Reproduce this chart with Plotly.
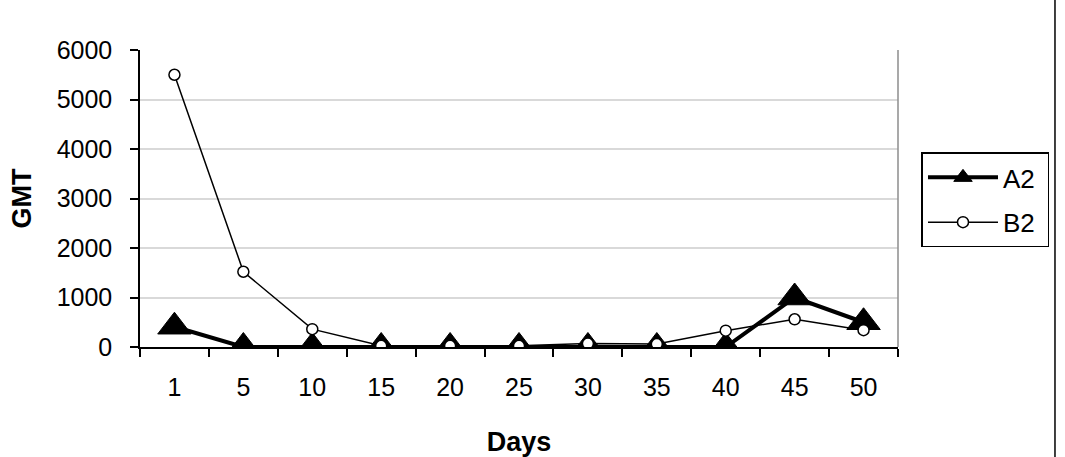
import plotly.graph_objects as go

days = ["1", "5", "10", "15", "20", "25", "30", "35", "40", "45", "50"]
a2 = [410, 0, 0, 0, 0, 0, 0, 0, 0, 1000, 500]
b2 = [5500, 1520, 360, 25, 25, 25, 70, 60, 330, 560, 340]
y_ticks = [0, 1000, 2000, 3000, 4000, 5000, 6000]

FONT = "Liberation Sans, Arial, sans-serif"

fig = go.Figure()
fig.add_trace(go.Scatter(
    x=days, y=a2, name="A2\u00a0", mode="lines+markers",
    line=dict(color="black", width=4),
    marker=dict(symbol="triangle-up", size=29, color="black",
                line=dict(color="black", width=1)),
    legendgroup="a",
))
fig.add_trace(go.Scatter(
    x=days, y=b2, name="B2\u00a0", mode="lines+markers",
    line=dict(color="black", width=1.5),
    marker=dict(symbol="circle", size=11, color="white",
                line=dict(color="black", width=1.5)),
    legendgroup="b",
))

fig.update_layout(
    width=1065, height=457,
    margin=dict(l=140, r=167, t=50, b=110, autoexpand=False),
    paper_bgcolor="white", plot_bgcolor="white",
    font=dict(family=FONT, size=25, color="black"),
    showlegend=True,
    legend=dict(
        x=1.031, y=0.655, xanchor="left", yanchor="top",
        bordercolor="black", borderwidth=1.5,
        font=dict(size=26), itemwidth=70,
        tracegroupgap=8, traceorder="grouped",
    ),
    xaxis=dict(
        type="category", range=[-0.5, 10.5], automargin=False,
        tickson="boundaries", ticks="outside", ticklen=8,
        tickcolor="black", tickwidth=1.5,
        showline=True, linecolor="black", linewidth=1.5,
        showgrid=False, zeroline=False,
        ticklabelstandoff=17,
        title=dict(text="<b>Days</b>", font=dict(size=27), standoff=32),
    ),
    yaxis=dict(
        range=[0, 6000], tickvals=y_ticks, automargin=False,
        ticks="outside", ticklen=8, tickcolor="black", tickwidth=1.5,
        showline=True, linecolor="black", linewidth=1.5,
        showgrid=True, gridcolor="#d9d9d9", gridwidth=1.5,
        zeroline=False, ticklabelstandoff=13,
        title=dict(text="<b>GMT</b>", font=dict(size=27), standoff=17),
    ),
    shapes=[
        dict(type="line", xref="paper", yref="paper", x0=1, x1=1, y0=0, y1=1,
             line=dict(color="#8c8c8c", width=1.5)),
        dict(type="line", xref="paper", yref="paper", x0=1.2071, x1=1.2071,
             y0=-0.4, y1=1.2, line=dict(color="black", width=1.5)),
    ],
)

fig.write_html("out.html")
